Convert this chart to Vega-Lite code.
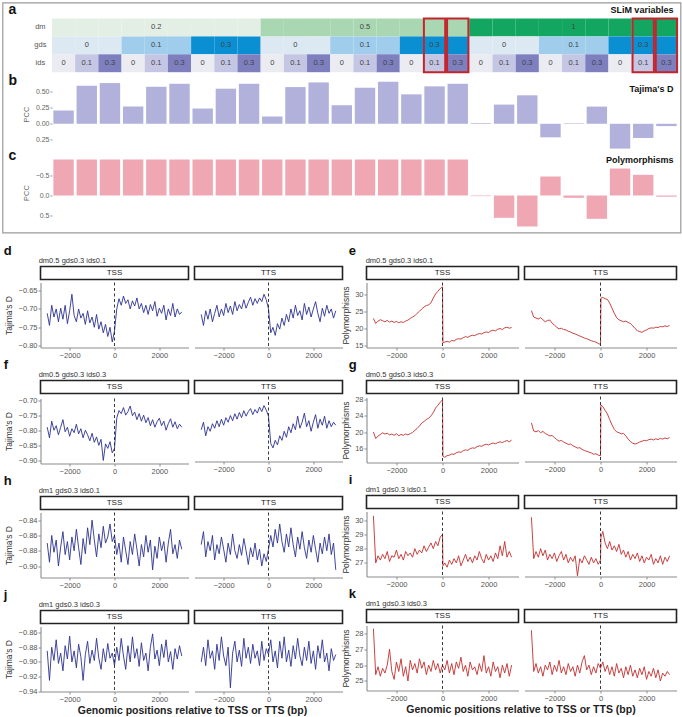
{
"$schema":"https://vega.github.io/schema/vega-lite/v6.json",
"padding":{"left":1.5,"top":1.5,"right":0,"bottom":0},
"background":"white",
"config":{
 "font":"Liberation Sans",
 "view":{"stroke":null},
 "axis":{"grid":false,"domainColor":"#8c8c8c","domainWidth":1.1,"tickColor":"#8c8c8c","tickSize":2.5,"tickWidth":1,"labelColor":"#555","labelFontSize":7.5,"labelPadding":1,"titleColor":"#333","titleFontSize":8.5,"titleFontWeight":"normal","titlePadding":3},
 "title":{"anchor":"start","frame":"bounds","fontSize":13,"fontWeight":"bold","color":"#111","offset":-1.5}
},
"datasets":{
"tab":[
{"c":1,"r":"dm","k":"dm0.2"},{"c":2,"r":"dm","k":"dm0.2"},{"c":3,"r":"dm","k":"dm0.2"},{"c":4,"r":"dm","k":"dm0.2"},{"c":5,"r":"dm","k":"dm0.2","t":"0.2"},{"c":6,"r":"dm","k":"dm0.2"},{"c":7,"r":"dm","k":"dm0.2"},{"c":8,"r":"dm","k":"dm0.2"},{"c":9,"r":"dm","k":"dm0.2"},
{"c":10,"r":"dm","k":"dm0.5"},{"c":11,"r":"dm","k":"dm0.5"},{"c":12,"r":"dm","k":"dm0.5"},{"c":13,"r":"dm","k":"dm0.5"},{"c":14,"r":"dm","k":"dm0.5","t":"0.5"},{"c":15,"r":"dm","k":"dm0.5"},{"c":16,"r":"dm","k":"dm0.5"},{"c":17,"r":"dm","k":"dm0.5"},{"c":18,"r":"dm","k":"dm0.5"},
{"c":19,"r":"dm","k":"dm1"},{"c":20,"r":"dm","k":"dm1"},{"c":21,"r":"dm","k":"dm1"},{"c":22,"r":"dm","k":"dm1"},{"c":23,"r":"dm","k":"dm1","t":"1"},{"c":24,"r":"dm","k":"dm1"},{"c":25,"r":"dm","k":"dm1"},{"c":26,"r":"dm","k":"dm1"},{"c":27,"r":"dm","k":"dm1"},
{"c":1,"r":"gds","k":"g0"},{"c":2,"r":"gds","k":"g0","t":"0"},{"c":3,"r":"gds","k":"g0"},{"c":4,"r":"gds","k":"g0.1"},{"c":5,"r":"gds","k":"g0.1","t":"0.1"},{"c":6,"r":"gds","k":"g0.1"},{"c":7,"r":"gds","k":"g0.3"},{"c":8,"r":"gds","k":"g0.3","t":"0.3"},{"c":9,"r":"gds","k":"g0.3"},
{"c":10,"r":"gds","k":"g0"},{"c":11,"r":"gds","k":"g0","t":"0"},{"c":12,"r":"gds","k":"g0"},{"c":13,"r":"gds","k":"g0.1"},{"c":14,"r":"gds","k":"g0.1","t":"0.1"},{"c":15,"r":"gds","k":"g0.1"},{"c":16,"r":"gds","k":"g0.3"},{"c":17,"r":"gds","k":"g0.3","t":"0.3"},{"c":18,"r":"gds","k":"g0.3"},
{"c":19,"r":"gds","k":"g0"},{"c":20,"r":"gds","k":"g0","t":"0"},{"c":21,"r":"gds","k":"g0"},{"c":22,"r":"gds","k":"g0.1"},{"c":23,"r":"gds","k":"g0.1","t":"0.1"},{"c":24,"r":"gds","k":"g0.1"},{"c":25,"r":"gds","k":"g0.3"},{"c":26,"r":"gds","k":"g0.3","t":"0.3"},{"c":27,"r":"gds","k":"g0.3"},
{"c":1,"r":"ids","k":"i0","t":"0"},{"c":2,"r":"ids","k":"i0.1","t":"0.1"},{"c":3,"r":"ids","k":"i0.3","t":"0.3"},{"c":4,"r":"ids","k":"i0","t":"0"},{"c":5,"r":"ids","k":"i0.1","t":"0.1"},{"c":6,"r":"ids","k":"i0.3","t":"0.3"},{"c":7,"r":"ids","k":"i0","t":"0"},{"c":8,"r":"ids","k":"i0.1","t":"0.1"},{"c":9,"r":"ids","k":"i0.3","t":"0.3"},
{"c":10,"r":"ids","k":"i0","t":"0"},{"c":11,"r":"ids","k":"i0.1","t":"0.1"},{"c":12,"r":"ids","k":"i0.3","t":"0.3"},{"c":13,"r":"ids","k":"i0","t":"0"},{"c":14,"r":"ids","k":"i0.1","t":"0.1"},{"c":15,"r":"ids","k":"i0.3","t":"0.3"},{"c":16,"r":"ids","k":"i0","t":"0"},{"c":17,"r":"ids","k":"i0.1","t":"0.1"},{"c":18,"r":"ids","k":"i0.3","t":"0.3"},
{"c":19,"r":"ids","k":"i0","t":"0"},{"c":20,"r":"ids","k":"i0.1","t":"0.1"},{"c":21,"r":"ids","k":"i0.3","t":"0.3"},{"c":22,"r":"ids","k":"i0","t":"0"},{"c":23,"r":"ids","k":"i0.1","t":"0.1"},{"c":24,"r":"ids","k":"i0.3","t":"0.3"},{"c":25,"r":"ids","k":"i0","t":"0"},{"c":26,"r":"ids","k":"i0.1","t":"0.1"},{"c":27,"r":"ids","k":"i0.3","t":"0.3"}
],
"rl":[{"c":0,"r":"dm"},{"c":0,"r":"gds"},{"c":0,"r":"ids"}],
"pb":[{"c":1,"v":0.204},{"c":2,"v":0.587},{"c":3,"v":0.628},{"c":4,"v":0.265},{"c":5,"v":0.571},{"c":6,"v":0.617},{"c":7,"v":0.235},{"c":8,"v":0.541},{"c":9,"v":0.617},{"c":10,"v":0.112},{"c":11,"v":0.566},{"c":12,"v":0.638},{"c":13,"v":0.286},{"c":14,"v":0.556},{"c":15,"v":0.648},{"c":16,"v":0.454},{"c":17,"v":0.577},{"c":18,"v":0.617},{"c":19,"v":0.01},{"c":20,"v":0.296},{"c":21,"v":0.439},{"c":22,"v":-0.209},{"c":23,"v":0.008},{"c":24,"v":0.265},{"c":25,"v":-0.383},{"c":26,"v":-0.219},{"c":27,"v":-0.036}],
"pc":[{"c":1,"v":-0.9},{"c":2,"v":-0.9},{"c":3,"v":-0.9},{"c":4,"v":-0.9},{"c":5,"v":-0.9},{"c":6,"v":-0.9},{"c":7,"v":-0.9},{"c":8,"v":-0.9},{"c":9,"v":-0.9},{"c":10,"v":-0.9},{"c":11,"v":-0.9},{"c":12,"v":-0.9},{"c":13,"v":-0.9},{"c":14,"v":-0.9},{"c":15,"v":-0.9},{"c":16,"v":-0.9},{"c":17,"v":-0.9},{"c":18,"v":-0.9},{"c":19,"v":0.015},{"c":20,"v":0.558},{"c":21,"v":0.775},{"c":22,"v":-0.475},{"c":23,"v":0.058},{"c":24,"v":0.583},{"c":25,"v":-0.675},{"c":26,"v":-0.517},{"c":27,"v":0.03}],
"d":[{"x":-3000,"a":-0.712,"b":-0.715},{"x":-2900,"a":-0.745,"b":-0.745},{"x":-2800,"a":-0.69,"b":-0.705},{"x":-2700,"a":-0.722,"b":-0.728},{"x":-2600,"a":-0.7,"b":-0.7},{"x":-2500,"a":-0.735,"b":-0.735},{"x":-2400,"a":-0.698,"b":-0.712},{"x":-2300,"a":-0.728,"b":-0.69},{"x":-2200,"a":-0.69,"b":-0.722},{"x":-2100,"a":-0.74,"b":-0.7},{"x":-2000,"a":-0.705,"b":-0.718},{"x":-1900,"a":-0.66,"b":-0.685},{"x":-1800,"a":-0.718,"b":-0.71},{"x":-1700,"a":-0.735,"b":-0.692},{"x":-1600,"a":-0.7,"b":-0.715},{"x":-1500,"a":-0.725,"b":-0.68},{"x":-1400,"a":-0.712,"b":-0.705},{"x":-1300,"a":-0.742,"b":-0.688},{"x":-1200,"a":-0.705,"b":-0.7},{"x":-1100,"a":-0.738,"b":-0.675},{"x":-1000,"a":-0.722,"b":-0.698},{"x":-900,"a":-0.75,"b":-0.682},{"x":-800,"a":-0.715,"b":-0.668},{"x":-700,"a":-0.755,"b":-0.69},{"x":-600,"a":-0.735,"b":-0.672},{"x":-500,"a":-0.765,"b":-0.685},{"x":-400,"a":-0.742,"b":-0.67},{"x":-300,"a":-0.775,"b":-0.68},{"x":-200,"a":-0.75,"b":-0.66},{"x":-100,"a":-0.79,"b":-0.675},{"x":0,"a":-0.76,"b":-0.7},{"x":100,"a":-0.7,"b":-0.765},{"x":200,"a":-0.672,"b":-0.75},{"x":300,"a":-0.69,"b":-0.772},{"x":400,"a":-0.665,"b":-0.74},{"x":500,"a":-0.685,"b":-0.755},{"x":600,"a":-0.675,"b":-0.725},{"x":700,"a":-0.7,"b":-0.745},{"x":800,"a":-0.678,"b":-0.715},{"x":900,"a":-0.692,"b":-0.735},{"x":1000,"a":-0.67,"b":-0.7},{"x":1100,"a":-0.7,"b":-0.725},{"x":1200,"a":-0.685,"b":-0.69},{"x":1300,"a":-0.71,"b":-0.718},{"x":1400,"a":-0.69,"b":-0.705},{"x":1500,"a":-0.715,"b":-0.73},{"x":1600,"a":-0.688,"b":-0.685},{"x":1700,"a":-0.705,"b":-0.715},{"x":1800,"a":-0.68,"b":-0.695},{"x":1900,"a":-0.72,"b":-0.722},{"x":2000,"a":-0.698,"b":-0.7},{"x":2100,"a":-0.712,"b":-0.68},{"x":2200,"a":-0.69,"b":-0.712},{"x":2300,"a":-0.73,"b":-0.735},{"x":2400,"a":-0.7,"b":-0.698},{"x":2500,"a":-0.718,"b":-0.72},{"x":2600,"a":-0.685,"b":-0.69},{"x":2700,"a":-0.722,"b":-0.712},{"x":2800,"a":-0.7,"b":-0.7},{"x":2900,"a":-0.715,"b":-0.725},{"x":3000,"a":-0.708,"b":-0.705}],
"e":[{"x":-3000,"a":23.0,"b":25.3},{"x":-2900,"a":21.5,"b":23.4},{"x":-2800,"a":22.2,"b":23.1},{"x":-2700,"a":22.6,"b":22.8},{"x":-2600,"a":22.3,"b":23.2},{"x":-2500,"a":22.0,"b":22.6},{"x":-2400,"a":22.4,"b":22.0},{"x":-2300,"a":21.9,"b":22.4},{"x":-2200,"a":22.2,"b":22.5},{"x":-2100,"a":21.8,"b":21.6},{"x":-2000,"a":22.1,"b":21.0},{"x":-1900,"a":21.7,"b":20.4},{"x":-1800,"a":22.0,"b":19.9},{"x":-1700,"a":21.8,"b":20.1},{"x":-1600,"a":22.2,"b":19.7},{"x":-1500,"a":22.5,"b":19.6},{"x":-1400,"a":23.0,"b":19.2},{"x":-1300,"a":23.4,"b":19.0},{"x":-1200,"a":23.8,"b":18.6},{"x":-1100,"a":24.5,"b":18.4},{"x":-1000,"a":25.1,"b":18.1},{"x":-900,"a":25.8,"b":17.8},{"x":-800,"a":26.4,"b":17.5},{"x":-700,"a":26.8,"b":17.2},{"x":-600,"a":27.0,"b":17.0},{"x":-500,"a":27.6,"b":16.7},{"x":-400,"a":29.0,"b":16.4},{"x":-300,"a":30.2,"b":16.2},{"x":-200,"a":31.0,"b":16.0},{"x":-100,"a":31.8,"b":15.6},{"x":0,"a":32.3,"b":15.3},{"x":20,"a":15.8,"b":29.0},{"x":100,"a":16.0,"b":29.2},{"x":200,"a":16.2,"b":28.8},{"x":300,"a":16.0,"b":28.6},{"x":400,"a":16.5,"b":27.5},{"x":500,"a":16.3,"b":26.0},{"x":600,"a":16.8,"b":24.5},{"x":700,"a":17.0,"b":23.2},{"x":800,"a":16.9,"b":22.6},{"x":900,"a":17.3,"b":22.3},{"x":1000,"a":17.6,"b":22.0},{"x":1100,"a":17.4,"b":22.2},{"x":1200,"a":17.8,"b":21.8},{"x":1300,"a":18.0,"b":21.5},{"x":1400,"a":17.9,"b":20.8},{"x":1500,"a":18.3,"b":20.0},{"x":1600,"a":18.5,"b":19.4},{"x":1700,"a":18.4,"b":19.1},{"x":1800,"a":18.8,"b":18.9},{"x":1900,"a":19.0,"b":19.3},{"x":2000,"a":18.8,"b":19.6},{"x":2100,"a":19.3,"b":20.0},{"x":2200,"a":19.5,"b":20.2},{"x":2300,"a":19.3,"b":20.1},{"x":2400,"a":19.8,"b":20.4},{"x":2500,"a":20.0,"b":20.3},{"x":2600,"a":19.7,"b":20.6},{"x":2700,"a":20.2,"b":20.5},{"x":2800,"a":20.4,"b":20.8},{"x":2900,"a":20.1,"b":20.6},{"x":3000,"a":20.3,"b":20.9}],
"f":[{"x":-3000,"a":-0.79,"b":-0.805},{"x":-2900,"a":-0.825,"b":-0.78},{"x":-2800,"a":-0.77,"b":-0.825},{"x":-2700,"a":-0.8,"b":-0.795},{"x":-2600,"a":-0.785,"b":-0.81},{"x":-2500,"a":-0.815,"b":-0.785},{"x":-2400,"a":-0.79,"b":-0.8},{"x":-2300,"a":-0.765,"b":-0.775},{"x":-2200,"a":-0.805,"b":-0.795},{"x":-2100,"a":-0.79,"b":-0.77},{"x":-2000,"a":-0.82,"b":-0.79},{"x":-1900,"a":-0.795,"b":-0.765},{"x":-1800,"a":-0.808,"b":-0.78},{"x":-1700,"a":-0.78,"b":-0.758},{"x":-1600,"a":-0.812,"b":-0.775},{"x":-1500,"a":-0.795,"b":-0.752},{"x":-1400,"a":-0.825,"b":-0.77},{"x":-1300,"a":-0.8,"b":-0.748},{"x":-1200,"a":-0.815,"b":-0.765},{"x":-1100,"a":-0.835,"b":-0.742},{"x":-1000,"a":-0.81,"b":-0.76},{"x":-900,"a":-0.84,"b":-0.745},{"x":-800,"a":-0.822,"b":-0.735},{"x":-700,"a":-0.85,"b":-0.755},{"x":-600,"a":-0.83,"b":-0.738},{"x":-500,"a":-0.9,"b":-0.75},{"x":-400,"a":-0.845,"b":-0.73},{"x":-300,"a":-0.86,"b":-0.745},{"x":-200,"a":-0.838,"b":-0.725},{"x":-100,"a":-0.875,"b":-0.74},{"x":0,"a":-0.86,"b":-0.76},{"x":100,"a":-0.76,"b":-0.85},{"x":200,"a":-0.735,"b":-0.865},{"x":300,"a":-0.745,"b":-0.84},{"x":400,"a":-0.725,"b":-0.855},{"x":500,"a":-0.75,"b":-0.825},{"x":600,"a":-0.738,"b":-0.84},{"x":700,"a":-0.72,"b":-0.81},{"x":800,"a":-0.752,"b":-0.83},{"x":900,"a":-0.74,"b":-0.795},{"x":1000,"a":-0.765,"b":-0.815},{"x":1100,"a":-0.745,"b":-0.785},{"x":1200,"a":-0.77,"b":-0.805},{"x":1300,"a":-0.75,"b":-0.76},{"x":1400,"a":-0.775,"b":-0.8},{"x":1500,"a":-0.758,"b":-0.78},{"x":1600,"a":-0.785,"b":-0.75},{"x":1700,"a":-0.765,"b":-0.795},{"x":1800,"a":-0.79,"b":-0.775},{"x":1900,"a":-0.772,"b":-0.81},{"x":2000,"a":-0.76,"b":-0.78},{"x":2100,"a":-0.785,"b":-0.755},{"x":2200,"a":-0.77,"b":-0.8},{"x":2300,"a":-0.8,"b":-0.77},{"x":2400,"a":-0.778,"b":-0.79},{"x":2500,"a":-0.762,"b":-0.76},{"x":2600,"a":-0.79,"b":-0.8},{"x":2700,"a":-0.772,"b":-0.775},{"x":2800,"a":-0.795,"b":-0.795},{"x":2900,"a":-0.78,"b":-0.78},{"x":3000,"a":-0.79,"b":-0.79}],
"g":[{"x":-3000,"a":20.0,"b":22.0},{"x":-2900,"a":18.4,"b":20.0},{"x":-2800,"a":19.0,"b":19.8},{"x":-2700,"a":19.4,"b":20.1},{"x":-2600,"a":19.8,"b":19.6},{"x":-2500,"a":19.5,"b":19.9},{"x":-2400,"a":19.7,"b":19.4},{"x":-2300,"a":19.3,"b":19.1},{"x":-2200,"a":19.5,"b":18.8},{"x":-2100,"a":19.2,"b":18.9},{"x":-2000,"a":19.6,"b":18.4},{"x":-1900,"a":19.1,"b":17.9},{"x":-1800,"a":19.4,"b":17.5},{"x":-1700,"a":19.2,"b":17.7},{"x":-1600,"a":19.5,"b":17.3},{"x":-1500,"a":19.3,"b":17.0},{"x":-1400,"a":19.6,"b":16.7},{"x":-1300,"a":19.9,"b":16.8},{"x":-1200,"a":20.4,"b":16.4},{"x":-1100,"a":20.9,"b":16.1},{"x":-1000,"a":21.5,"b":15.8},{"x":-900,"a":22.2,"b":15.9},{"x":-800,"a":22.6,"b":15.5},{"x":-700,"a":23.1,"b":15.2},{"x":-600,"a":23.4,"b":15.0},{"x":-500,"a":24.0,"b":14.8},{"x":-400,"a":24.8,"b":14.6},{"x":-300,"a":25.9,"b":14.3},{"x":-200,"a":26.6,"b":14.4},{"x":-100,"a":27.3,"b":14.1},{"x":0,"a":27.9,"b":13.9},{"x":20,"a":14.0,"b":26.4},{"x":100,"a":13.8,"b":26.0},{"x":200,"a":14.2,"b":25.1},{"x":300,"a":14.3,"b":24.2},{"x":400,"a":14.6,"b":22.8},{"x":500,"a":14.5,"b":21.5},{"x":600,"a":14.9,"b":20.4},{"x":700,"a":15.1,"b":19.8},{"x":800,"a":15.0,"b":19.6},{"x":900,"a":15.4,"b":19.3},{"x":1000,"a":15.6,"b":19.4},{"x":1100,"a":15.5,"b":18.8},{"x":1200,"a":15.9,"b":18.0},{"x":1300,"a":16.1,"b":17.4},{"x":1400,"a":16.0,"b":17.0},{"x":1500,"a":16.4,"b":16.8},{"x":1600,"a":16.6,"b":17.0},{"x":1700,"a":16.5,"b":17.3},{"x":1800,"a":16.8,"b":17.5},{"x":1900,"a":17.0,"b":17.7},{"x":2000,"a":16.8,"b":17.6},{"x":2100,"a":17.1,"b":17.9},{"x":2200,"a":17.3,"b":18.0},{"x":2300,"a":17.1,"b":17.8},{"x":2400,"a":17.4,"b":18.1},{"x":2500,"a":17.6,"b":17.9},{"x":2600,"a":17.4,"b":18.2},{"x":2700,"a":17.7,"b":18.0},{"x":2800,"a":17.9,"b":18.3},{"x":2900,"a":17.6,"b":18.1},{"x":3000,"a":18.0,"b":18.4}],
"h":[{"x":-3000,"a":-0.87,"b":-0.872},{"x":-2900,"a":-0.895,"b":-0.855},{"x":-2800,"a":-0.86,"b":-0.888},{"x":-2700,"a":-0.882,"b":-0.868},{"x":-2600,"a":-0.866,"b":-0.88},{"x":-2500,"a":-0.9,"b":-0.86},{"x":-2400,"a":-0.875,"b":-0.892},{"x":-2300,"a":-0.855,"b":-0.872},{"x":-2200,"a":-0.885,"b":-0.884},{"x":-2100,"a":-0.868,"b":-0.862},{"x":-2000,"a":-0.892,"b":-0.878},{"x":-1900,"a":-0.862,"b":-0.895},{"x":-1800,"a":-0.88,"b":-0.87},{"x":-1700,"a":-0.852,"b":-0.885},{"x":-1600,"a":-0.876,"b":-0.858},{"x":-1500,"a":-0.898,"b":-0.88},{"x":-1400,"a":-0.864,"b":-0.89},{"x":-1300,"a":-0.884,"b":-0.872},{"x":-1200,"a":-0.85,"b":-0.886},{"x":-1100,"a":-0.872,"b":-0.864},{"x":-1000,"a":-0.84,"b":-0.88},{"x":-900,"a":-0.866,"b":-0.898},{"x":-800,"a":-0.888,"b":-0.876},{"x":-700,"a":-0.858,"b":-0.888},{"x":-600,"a":-0.876,"b":-0.87},{"x":-500,"a":-0.848,"b":-0.892},{"x":-400,"a":-0.87,"b":-0.878},{"x":-300,"a":-0.862,"b":-0.9},{"x":-200,"a":-0.845,"b":-0.884},{"x":-100,"a":-0.868,"b":-0.894},{"x":0,"a":-0.86,"b":-0.878},{"x":100,"a":-0.885,"b":-0.86},{"x":200,"a":-0.87,"b":-0.875},{"x":300,"a":-0.895,"b":-0.852},{"x":400,"a":-0.862,"b":-0.87},{"x":500,"a":-0.88,"b":-0.845},{"x":600,"a":-0.898,"b":-0.868},{"x":700,"a":-0.868,"b":-0.882},{"x":800,"a":-0.885,"b":-0.858},{"x":900,"a":-0.858,"b":-0.875},{"x":1000,"a":-0.878,"b":-0.85},{"x":1100,"a":-0.9,"b":-0.872},{"x":1200,"a":-0.872,"b":-0.888},{"x":1300,"a":-0.888,"b":-0.862},{"x":1400,"a":-0.86,"b":-0.878},{"x":1500,"a":-0.882,"b":-0.855},{"x":1600,"a":-0.866,"b":-0.876},{"x":1700,"a":-0.905,"b":-0.89},{"x":1800,"a":-0.874,"b":-0.866},{"x":1900,"a":-0.89,"b":-0.882},{"x":2000,"a":-0.862,"b":-0.86},{"x":2100,"a":-0.88,"b":-0.878},{"x":2200,"a":-0.868,"b":-0.895},{"x":2300,"a":-0.895,"b":-0.87},{"x":2400,"a":-0.87,"b":-0.884},{"x":2500,"a":-0.852,"b":-0.862},{"x":2600,"a":-0.884,"b":-0.88},{"x":2700,"a":-0.872,"b":-0.858},{"x":2800,"a":-0.89,"b":-0.885},{"x":2900,"a":-0.866,"b":-0.87},{"x":3000,"a":-0.878,"b":-0.905}],
"i":[{"x":-3000,"a":30.3,"b":30.2},{"x":-2900,"a":27.0,"b":27.3},{"x":-2800,"a":27.5,"b":27.8},{"x":-2700,"a":27.2,"b":27.4},{"x":-2600,"a":27.6,"b":28.0},{"x":-2500,"a":27.3,"b":27.5},{"x":-2400,"a":27.8,"b":27.9},{"x":-2300,"a":27.1,"b":27.2},{"x":-2200,"a":27.5,"b":27.6},{"x":-2100,"a":27.4,"b":27.3},{"x":-2000,"a":27.9,"b":27.7},{"x":-1900,"a":27.3,"b":27.1},{"x":-1800,"a":27.6,"b":27.5},{"x":-1700,"a":27.2,"b":27.8},{"x":-1600,"a":27.8,"b":27.2},{"x":-1500,"a":27.5,"b":27.6},{"x":-1400,"a":27.7,"b":27.0},{"x":-1300,"a":27.4,"b":27.4},{"x":-1200,"a":28.0,"b":27.1},{"x":-1100,"a":27.6,"b":27.5},{"x":-1000,"a":27.9,"b":26.1},{"x":-900,"a":27.7,"b":27.3},{"x":-800,"a":28.2,"b":27.0},{"x":-700,"a":27.8,"b":27.5},{"x":-600,"a":28.1,"b":27.2},{"x":-500,"a":28.4,"b":26.9},{"x":-400,"a":28.0,"b":27.4},{"x":-300,"a":28.5,"b":27.0},{"x":-200,"a":28.2,"b":27.3},{"x":-100,"a":28.8,"b":26.9},{"x":0,"a":29.0,"b":27.2},{"x":20,"a":26.8,"b":28.8},{"x":100,"a":27.0,"b":29.2},{"x":200,"a":26.7,"b":28.4},{"x":300,"a":27.2,"b":28.0},{"x":400,"a":26.9,"b":28.5},{"x":500,"a":27.3,"b":27.9},{"x":600,"a":27.0,"b":28.2},{"x":700,"a":27.5,"b":27.8},{"x":800,"a":26.8,"b":28.3},{"x":900,"a":27.2,"b":27.6},{"x":1000,"a":27.6,"b":27.9},{"x":1100,"a":27.1,"b":27.4},{"x":1200,"a":27.4,"b":27.8},{"x":1300,"a":27.0,"b":27.2},{"x":1400,"a":27.5,"b":27.6},{"x":1500,"a":27.2,"b":27.3},{"x":1600,"a":27.8,"b":27.7},{"x":1700,"a":27.3,"b":27.1},{"x":1800,"a":27.0,"b":27.5},{"x":1900,"a":27.6,"b":27.0},{"x":2000,"a":27.2,"b":27.4},{"x":2100,"a":27.5,"b":27.2},{"x":2200,"a":27.1,"b":27.6},{"x":2300,"a":27.7,"b":26.9},{"x":2400,"a":27.3,"b":27.3},{"x":2500,"a":28.2,"b":27.0},{"x":2600,"a":27.5,"b":27.5},{"x":2700,"a":28.5,"b":26.9},{"x":2800,"a":27.4,"b":27.4},{"x":2900,"a":27.8,"b":27.1},{"x":3000,"a":27.4,"b":27.5}],
"j":[{"x":-3000,"a":-0.885,"b":-0.9},{"x":-2900,"a":-0.925,"b":-0.88},{"x":-2800,"a":-0.88,"b":-0.905},{"x":-2700,"a":-0.898,"b":-0.87},{"x":-2600,"a":-0.87,"b":-0.895},{"x":-2500,"a":-0.902,"b":-0.885},{"x":-2400,"a":-0.888,"b":-0.91},{"x":-2300,"a":-0.912,"b":-0.876},{"x":-2200,"a":-0.878,"b":-0.898},{"x":-2100,"a":-0.896,"b":-0.866},{"x":-2000,"a":-0.865,"b":-0.892},{"x":-1900,"a":-0.9,"b":-0.905},{"x":-1800,"a":-0.885,"b":-0.88},{"x":-1700,"a":-0.908,"b":-0.935},{"x":-1600,"a":-0.876,"b":-0.888},{"x":-1500,"a":-0.893,"b":-0.872},{"x":-1400,"a":-0.925,"b":-0.9},{"x":-1300,"a":-0.89,"b":-0.884},{"x":-1200,"a":-0.872,"b":-0.906},{"x":-1100,"a":-0.902,"b":-0.868},{"x":-1000,"a":-0.884,"b":-0.895},{"x":-900,"a":-0.898,"b":-0.88},{"x":-800,"a":-0.868,"b":-0.902},{"x":-700,"a":-0.895,"b":-0.876},{"x":-600,"a":-0.91,"b":-0.895},{"x":-500,"a":-0.882,"b":-0.885},{"x":-400,"a":-0.9,"b":-0.905},{"x":-300,"a":-0.875,"b":-0.872},{"x":-200,"a":-0.895,"b":-0.898},{"x":-100,"a":-0.888,"b":-0.882},{"x":0,"a":-0.905,"b":-0.89},{"x":100,"a":-0.88,"b":-0.87},{"x":200,"a":-0.898,"b":-0.9},{"x":300,"a":-0.868,"b":-0.885},{"x":400,"a":-0.892,"b":-0.908},{"x":500,"a":-0.91,"b":-0.872},{"x":600,"a":-0.878,"b":-0.895},{"x":700,"a":-0.9,"b":-0.866},{"x":800,"a":-0.866,"b":-0.9},{"x":900,"a":-0.895,"b":-0.884},{"x":1000,"a":-0.882,"b":-0.906},{"x":1100,"a":-0.906,"b":-0.878},{"x":1200,"a":-0.874,"b":-0.896},{"x":1300,"a":-0.898,"b":-0.868},{"x":1400,"a":-0.888,"b":-0.892},{"x":1500,"a":-0.912,"b":-0.905},{"x":1600,"a":-0.88,"b":-0.88},{"x":1700,"a":-0.862,"b":-0.898},{"x":1800,"a":-0.896,"b":-0.872},{"x":1900,"a":-0.884,"b":-0.902},{"x":2000,"a":-0.905,"b":-0.885},{"x":2100,"a":-0.876,"b":-0.91},{"x":2200,"a":-0.894,"b":-0.878},{"x":2300,"a":-0.87,"b":-0.895},{"x":2400,"a":-0.9,"b":-0.87},{"x":2500,"a":-0.886,"b":-0.9},{"x":2600,"a":-0.91,"b":-0.888},{"x":2700,"a":-0.882,"b":-0.912},{"x":2800,"a":-0.896,"b":-0.882},{"x":2900,"a":-0.878,"b":-0.898},{"x":3000,"a":-0.892,"b":-0.89}],
"k":[{"x":-3000,"a":28.3,"b":28.2},{"x":-2900,"a":25.4,"b":25.6},{"x":-2800,"a":25.9,"b":26.1},{"x":-2700,"a":25.3,"b":25.5},{"x":-2600,"a":25.8,"b":25.9},{"x":-2500,"a":25.5,"b":25.3},{"x":-2400,"a":26.0,"b":26.0},{"x":-2300,"a":27.0,"b":25.7},{"x":-2200,"a":25.6,"b":26.2},{"x":-2100,"a":25.1,"b":25.4},{"x":-2000,"a":26.2,"b":26.0},{"x":-1900,"a":25.6,"b":25.6},{"x":-1800,"a":26.4,"b":26.3},{"x":-1700,"a":25.3,"b":25.5},{"x":-1600,"a":25.9,"b":25.9},{"x":-1500,"a":25.0,"b":25.4},{"x":-1400,"a":26.3,"b":26.1},{"x":-1300,"a":25.7,"b":25.6},{"x":-1200,"a":26.1,"b":25.9},{"x":-1100,"a":25.5,"b":25.3},{"x":-1000,"a":26.4,"b":26.0},{"x":-900,"a":25.8,"b":25.5},{"x":-800,"a":26.2,"b":26.2},{"x":-700,"a":25.4,"b":26.6},{"x":-600,"a":26.0,"b":25.7},{"x":-500,"a":25.6,"b":26.0},{"x":-400,"a":26.3,"b":25.4},{"x":-300,"a":25.7,"b":25.9},{"x":-200,"a":26.1,"b":25.5},{"x":-100,"a":25.5,"b":26.1},{"x":0,"a":26.0,"b":25.8},{"x":100,"a":25.7,"b":26.2},{"x":200,"a":26.3,"b":25.6},{"x":300,"a":25.5,"b":26.0},{"x":400,"a":26.1,"b":25.4},{"x":500,"a":25.4,"b":25.9},{"x":600,"a":26.2,"b":25.3},{"x":700,"a":25.8,"b":26.1},{"x":800,"a":26.5,"b":25.5},{"x":900,"a":25.6,"b":25.8},{"x":1000,"a":26.0,"b":25.2},{"x":1100,"a":25.3,"b":25.9},{"x":1200,"a":26.2,"b":25.4},{"x":1300,"a":25.7,"b":26.0},{"x":1400,"a":25.9,"b":25.3},{"x":1500,"a":25.4,"b":25.7},{"x":1600,"a":26.1,"b":25.2},{"x":1700,"a":25.6,"b":25.8},{"x":1800,"a":26.6,"b":25.4},{"x":1900,"a":25.5,"b":25.9},{"x":2000,"a":25.9,"b":25.1},{"x":2100,"a":25.3,"b":25.6},{"x":2200,"a":26.2,"b":25.3},{"x":2300,"a":25.6,"b":25.8},{"x":2400,"a":25.9,"b":25.2},{"x":2500,"a":25.2,"b":25.7},{"x":2600,"a":26.0,"b":25.0},{"x":2700,"a":25.5,"b":25.5},{"x":2800,"a":26.1,"b":25.3},{"x":2900,"a":25.3,"b":25.6},{"x":3000,"a":26.0,"b":25.4}]
},
"spacing":11,
"vconcat":[
{"width":678,"height":230,
 "view":{"stroke":"#9a9a9a","strokeWidth":1.2},
 "resolve":{"scale":{"y":"independent"}},
 "layer":[
  {"layer":[
    {"data":{"name":"tab"},"mark":{"type":"rect"},"encoding":{
      "x":{"field":"c","type":"ordinal","scale":{"type":"band","domain":[0,1,2,3,4,5,6,7,8,9,10,11,12,13,14,15,16,17,18,19,20,21,22,23,24,25,26,27],"range":[26.3,675.5],"paddingInner":0,"paddingOuter":0},"axis":null},
      "y":{"field":"r","type":"nominal","scale":{"type":"band","domain":["dm","gds","ids"],"range":[16,69.7],"paddingInner":0,"paddingOuter":0},"axis":null},
      "color":{"field":"k","type":"nominal","scale":{"domain":["dm0.2","dm0.5","dm1","g0","g0.1","g0.3","i0","i0.1","i0.3"],"range":["#e3efe4","#a9d7b1","#12a660","#dde9f2","#9fcdeb","#0a8fd2","#ebebf2","#c4c6e3","#7d7fbe"]},"legend":null}}},
    {"data":{"name":"tab"},"transform":[{"filter":"datum.t != null"}],"mark":{"type":"text","fontSize":7.5,"color":"#444"},"encoding":{
      "x":{"field":"c","type":"ordinal","scale":{"type":"band","domain":[0,1,2,3,4,5,6,7,8,9,10,11,12,13,14,15,16,17,18,19,20,21,22,23,24,25,26,27],"range":[26.3,675.5],"paddingInner":0,"paddingOuter":0},"axis":null},
      "y":{"field":"r","type":"nominal","scale":{"type":"band","domain":["dm","gds","ids"],"range":[16,69.7],"paddingInner":0,"paddingOuter":0},"axis":null},
      "text":{"field":"t"}}},
    {"data":{"name":"rl"},"mark":{"type":"text","fontSize":7.5,"color":"#555"},"encoding":{
      "x":{"field":"c","type":"ordinal","scale":{"type":"band","domain":[0,1,2,3,4,5,6,7,8,9,10,11,12,13,14,15,16,17,18,19,20,21,22,23,24,25,26,27],"range":[26.3,675.5],"paddingInner":0,"paddingOuter":0},"axis":null},
      "y":{"field":"r","type":"nominal","scale":{"type":"band","domain":["dm","gds","ids"],"range":[16,69.7],"paddingInner":0,"paddingOuter":0},"axis":null},
      "text":{"field":"r"}}}
  ]},
  {"layer":[
    {"data":{"values":[{"c":17},{"c":18},{"c":26},{"c":27}]},"mark":{"type":"rect","fill":"transparent","stroke":"#c4242b","strokeWidth":2,"width":{"band":0.92}},"encoding":{
      "x":{"field":"c","type":"ordinal","scale":{"type":"band","domain":[0,1,2,3,4,5,6,7,8,9,10,11,12,13,14,15,16,17,18,19,20,21,22,23,24,25,26,27],"range":[26.3,675.5],"paddingInner":0,"paddingOuter":0},"axis":null},
      "y":{"datum":0,"type":"quantitative","scale":{"domain":[0,1],"range":[16,69.7],"nice":false,"zero":false},"axis":null},
      "y2":{"datum":1}}},
    {"data":{"values":[{"t":"SLiM variables"}]},"mark":{"type":"text","align":"right","dx":7,"fontSize":9,"fontWeight":"bold","color":"#111"},"encoding":{
      "x":{"datum":27,"type":"ordinal","scale":{"type":"band","domain":[0,1,2,3,4,5,6,7,8,9,10,11,12,13,14,15,16,17,18,19,20,21,22,23,24,25,26,27],"range":[26.3,675.5],"paddingInner":0,"paddingOuter":0},"axis":null},
      "y":{"datum":-0.15,"type":"quantitative"},"text":{"field":"t"}}},
    {"data":{"values":[{"t":"a"}]},"mark":{"type":"text","align":"left","dx":-32,"fontSize":14,"fontWeight":"bold","color":"#111"},"encoding":{
      "x":{"datum":0,"type":"ordinal","scale":{"type":"band","domain":[0,1,2,3,4,5,6,7,8,9,10,11,12,13,14,15,16,17,18,19,20,21,22,23,24,25,26,27],"range":[26.3,675.5],"paddingInner":0,"paddingOuter":0},"axis":null},
      "y":{"datum":-0.15,"type":"quantitative"},"text":{"field":"t"}}}
  ]},
  {"layer":[
    {"data":{"name":"pb"},"mark":{"type":"bar","color":"#b1b1dc","width":{"band":0.88}},"encoding":{
      "x":{"field":"c","type":"ordinal","scale":{"type":"band","domain":[0,1,2,3,4,5,6,7,8,9,10,11,12,13,14,15,16,17,18,19,20,21,22,23,24,25,26,27],"range":[26.3,675.5],"paddingInner":0,"paddingOuter":0},"axis":null},
      "y":{"field":"v","type":"quantitative","stack":null,"scale":{"domain":[-0.4,0.7],"range":[147.2,75.9],"nice":false,"zero":false},"axis":{"orient":"left","offset":-49.5,"values":[-0.25,0,0.25,0.5],"format":".2f","labelExpr":"replace(replace(datum.label,'−',''),'-','')","domain":false,"title":"PCC","titleFontSize":7.5,"titleColor":"#666","titlePadding":5,"labelFontSize":7,"tickSize":2,"tickColor":"#999","labelColor":"#666"}},
      "y2":{"datum":0}}},
    {"data":{"values":[{"t":"Tajima's D"}]},"mark":{"type":"text","align":"right","dx":7,"fontSize":9,"fontWeight":"bold","color":"#111"},"encoding":{
      "x":{"datum":27,"type":"ordinal","scale":{"type":"band","domain":[0,1,2,3,4,5,6,7,8,9,10,11,12,13,14,15,16,17,18,19,20,21,22,23,24,25,26,27],"range":[26.3,675.5],"paddingInner":0,"paddingOuter":0},"axis":null},
      "y":{"datum":0.53,"type":"quantitative"},"text":{"field":"t"}}},
    {"data":{"values":[{"t":"b"}]},"mark":{"type":"text","align":"left","dx":-32,"fontSize":14,"fontWeight":"bold","color":"#111"},"encoding":{
      "x":{"datum":0,"type":"ordinal","scale":{"type":"band","domain":[0,1,2,3,4,5,6,7,8,9,10,11,12,13,14,15,16,17,18,19,20,21,22,23,24,25,26,27],"range":[26.3,675.5],"paddingInner":0,"paddingOuter":0},"axis":null},
      "y":{"datum":0.66,"type":"quantitative"},"text":{"field":"t"}}}
  ]},
  {"layer":[
    {"data":{"name":"pc"},"mark":{"type":"bar","color":"#f0a7b4","width":{"band":0.88}},"encoding":{
      "x":{"field":"c","type":"ordinal","scale":{"type":"band","domain":[0,1,2,3,4,5,6,7,8,9,10,11,12,13,14,15,16,17,18,19,20,21,22,23,24,25,26,27],"range":[26.3,675.5],"paddingInner":0,"paddingOuter":0},"axis":null},
      "y":{"field":"v","type":"quantitative","stack":null,"scale":{"domain":[-1,0.85],"range":[153,227],"nice":false,"zero":false},"axis":{"orient":"left","offset":-49.5,"values":[-0.5,0,0.5],"format":".1f","domain":false,"title":"PCC","titleFontSize":7.5,"titleColor":"#666","titlePadding":5,"labelFontSize":7,"tickSize":2,"tickColor":"#999","labelColor":"#666"}},
      "y2":{"datum":0}}},
    {"data":{"values":[{"t":"Polymorphisms"}]},"mark":{"type":"text","align":"right","dx":7,"fontSize":9,"fontWeight":"bold","color":"#111"},"encoding":{
      "x":{"datum":27,"type":"ordinal","scale":{"type":"band","domain":[0,1,2,3,4,5,6,7,8,9,10,11,12,13,14,15,16,17,18,19,20,21,22,23,24,25,26,27],"range":[26.3,675.5],"paddingInner":0,"paddingOuter":0},"axis":null},
      "y":{"datum":-0.9,"type":"quantitative"},"text":{"field":"t"}}},
    {"data":{"values":[{"t":"c"}]},"mark":{"type":"text","align":"left","dx":-32,"fontSize":14,"fontWeight":"bold","color":"#111"},"encoding":{
      "x":{"datum":0,"type":"ordinal","scale":{"type":"band","domain":[0,1,2,3,4,5,6,7,8,9,10,11,12,13,14,15,16,17,18,19,20,21,22,23,24,25,26,27],"range":[26.3,675.5],"paddingInner":0,"paddingOuter":0},"axis":null},
      "y":{"datum":-1.0,"type":"quantitative"},"text":{"field":"t"}}}
  ]}
 ]
},
{"spacing":0,"hconcat":[
{"width":1,"height":1,"data":{"values":[]},"mark":{"type":"point","opacity":0},"encoding":{}},
{"spacing":-3,"hconcat":[
 {"spacing":0,"vconcat":[
  {"title":{"text":"d"},"vconcat":[{"title":{"text":"dm0.5 gds0.3 ids0.1","fontSize":7.5,"fontWeight":"normal","color":"#333","dx":35,"offset":1.5},"spacing":4,"hconcat":[
   {"spacing":1,"vconcat":[
    {"width":148,"height":13,"view":{"stroke":"#222","strokeWidth":1.6,"fill":"white"},"data":{"values":[{"s":"TSS"}]},"mark":{"type":"text","fontSize":8,"color":"#222"},"encoding":{"text":{"field":"s"},"y":{"datum":0.5,"type":"quantitative","scale":{"domain":[0,1]},"axis":{"title":"D","titleOpacity":0,"labels":false,"ticks":false,"domain":false,"minExtent":24,"maxExtent":24}}}},
    {"width":148,"height":65,"data":{"name":"d"},"layer":[
     {"mark":{"type":"line","color":"#2b3190","strokeWidth":0.9},"encoding":{"x":{"field":"x","type":"quantitative","scale":{"domain":[-3300,3300],"nice":false,"zero":false},"axis":{"title":null,"values":[-2000,0,2000],"format":"d"}},"y":{"field":"a","type":"quantitative","scale":{"domain":[-0.805,-0.628],"nice":false,"zero":false},"axis":{"title":"Tajima's D","values":[-0.8,-0.75,-0.7,-0.65],"format":".2f","minExtent":24,"maxExtent":24}}}},
     {"data":{"values":[{"x":0}]},"mark":{"type":"rule","strokeDash":[3,2.5],"color":"#222","strokeWidth":0.9},"encoding":{"x":{"field":"x","type":"quantitative"}}}
    ]}
   ]},
   {"spacing":1,"vconcat":[
    {"width":148,"height":13,"view":{"stroke":"#222","strokeWidth":1.6,"fill":"white"},"data":{"values":[{"s":"TTS"}]},"mark":{"type":"text","fontSize":8,"color":"#222"},"encoding":{"text":{"field":"s"}}},
    {"width":148,"height":65,"data":{"name":"d"},"layer":[
     {"mark":{"type":"line","color":"#2b3190","strokeWidth":0.9},"encoding":{"x":{"field":"x","type":"quantitative","scale":{"domain":[-3300,3300],"nice":false,"zero":false},"axis":{"title":null,"values":[-2000,0,2000],"format":"d"}},"y":{"field":"b","type":"quantitative","scale":{"domain":[-0.805,-0.628],"nice":false,"zero":false},"axis":null}}},
     {"data":{"values":[{"x":0}]},"mark":{"type":"rule","strokeDash":[3,2.5],"color":"#222","strokeWidth":0.9},"encoding":{"x":{"field":"x","type":"quantitative"}}}
    ]}
   ]}
  ]}]},
  {"title":{"text":"f"},"vconcat":[{"title":{"text":"dm0.5 gds0.3 ids0.3","fontSize":7.5,"fontWeight":"normal","color":"#333","dx":35,"offset":1.5},"spacing":4,"hconcat":[
   {"spacing":1,"vconcat":[
    {"width":148,"height":13,"view":{"stroke":"#222","strokeWidth":1.6,"fill":"white"},"data":{"values":[{"s":"TSS"}]},"mark":{"type":"text","fontSize":8,"color":"#222"},"encoding":{"text":{"field":"s"},"y":{"datum":0.5,"type":"quantitative","scale":{"domain":[0,1]},"axis":{"title":"D","titleOpacity":0,"labels":false,"ticks":false,"domain":false,"minExtent":24,"maxExtent":24}}}},
    {"width":148,"height":65,"data":{"name":"f"},"layer":[
     {"mark":{"type":"line","color":"#2b3190","strokeWidth":0.9},"encoding":{"x":{"field":"x","type":"quantitative","scale":{"domain":[-3300,3300],"nice":false,"zero":false},"axis":{"title":null,"values":[-2000,0,2000],"format":"d"}},"y":{"field":"a","type":"quantitative","scale":{"domain":[-0.91,-0.695],"nice":false,"zero":false},"axis":{"title":"Tajima's D","values":[-0.9,-0.85,-0.8,-0.75,-0.7],"format":".2f","minExtent":24,"maxExtent":24}}}},
     {"data":{"values":[{"x":0}]},"mark":{"type":"rule","strokeDash":[3,2.5],"color":"#222","strokeWidth":0.9},"encoding":{"x":{"field":"x","type":"quantitative"}}}
    ]}
   ]},
   {"spacing":1,"vconcat":[
    {"width":148,"height":13,"view":{"stroke":"#222","strokeWidth":1.6,"fill":"white"},"data":{"values":[{"s":"TTS"}]},"mark":{"type":"text","fontSize":8,"color":"#222"},"encoding":{"text":{"field":"s"}}},
    {"width":148,"height":65,"data":{"name":"f"},"layer":[
     {"mark":{"type":"line","color":"#2b3190","strokeWidth":0.9},"encoding":{"x":{"field":"x","type":"quantitative","scale":{"domain":[-3300,3300],"nice":false,"zero":false},"axis":{"title":null,"values":[-2000,0,2000],"format":"d"}},"y":{"field":"b","type":"quantitative","scale":{"domain":[-0.91,-0.695],"nice":false,"zero":false},"axis":null}}},
     {"data":{"values":[{"x":0}]},"mark":{"type":"rule","strokeDash":[3,2.5],"color":"#222","strokeWidth":0.9},"encoding":{"x":{"field":"x","type":"quantitative"}}}
    ]}
   ]}
  ]}]},
  {"title":{"text":"h"},"vconcat":[{"title":{"text":"dm1 gds0.3 ids0.1","fontSize":7.5,"fontWeight":"normal","color":"#333","dx":35,"offset":1.5},"spacing":4,"hconcat":[
   {"spacing":1,"vconcat":[
    {"width":148,"height":13,"view":{"stroke":"#222","strokeWidth":1.6,"fill":"white"},"data":{"values":[{"s":"TSS"}]},"mark":{"type":"text","fontSize":8,"color":"#222"},"encoding":{"text":{"field":"s"},"y":{"datum":0.5,"type":"quantitative","scale":{"domain":[0,1]},"axis":{"title":"D","titleOpacity":0,"labels":false,"ticks":false,"domain":false,"minExtent":24,"maxExtent":24}}}},
    {"width":148,"height":65,"data":{"name":"h"},"layer":[
     {"mark":{"type":"line","color":"#2b3190","strokeWidth":0.9},"encoding":{"x":{"field":"x","type":"quantitative","scale":{"domain":[-3300,3300],"nice":false,"zero":false},"axis":{"title":null,"values":[-2000,0,2000],"format":"d"}},"y":{"field":"a","type":"quantitative","scale":{"domain":[-0.915,-0.83],"nice":false,"zero":false},"axis":{"title":"Tajima's D","values":[-0.9,-0.88,-0.86,-0.84],"format":".2f","minExtent":24,"maxExtent":24}}}},
     {"data":{"values":[{"x":0}]},"mark":{"type":"rule","strokeDash":[3,2.5],"color":"#222","strokeWidth":0.9},"encoding":{"x":{"field":"x","type":"quantitative"}}}
    ]}
   ]},
   {"spacing":1,"vconcat":[
    {"width":148,"height":13,"view":{"stroke":"#222","strokeWidth":1.6,"fill":"white"},"data":{"values":[{"s":"TTS"}]},"mark":{"type":"text","fontSize":8,"color":"#222"},"encoding":{"text":{"field":"s"}}},
    {"width":148,"height":65,"data":{"name":"h"},"layer":[
     {"mark":{"type":"line","color":"#2b3190","strokeWidth":0.9},"encoding":{"x":{"field":"x","type":"quantitative","scale":{"domain":[-3300,3300],"nice":false,"zero":false},"axis":{"title":null,"values":[-2000,0,2000],"format":"d"}},"y":{"field":"b","type":"quantitative","scale":{"domain":[-0.915,-0.83],"nice":false,"zero":false},"axis":null}}},
     {"data":{"values":[{"x":0}]},"mark":{"type":"rule","strokeDash":[3,2.5],"color":"#222","strokeWidth":0.9},"encoding":{"x":{"field":"x","type":"quantitative"}}}
    ]}
   ]}
  ]}]},
  {"title":{"text":"Genomic positions relative to TSS or TTS (bp)","orient":"bottom","anchor":"middle","frame":"bounds","fontSize":10.5,"fontWeight":"bold","color":"#222","offset":3,"dx":19},"vconcat":[
  {"title":{"text":"j"},"vconcat":[{"title":{"text":"dm1 gds0.3 ids0.3","fontSize":7.5,"fontWeight":"normal","color":"#333","dx":35,"offset":1.5},"spacing":4,"hconcat":[
   {"spacing":1,"vconcat":[
    {"width":148,"height":13,"view":{"stroke":"#222","strokeWidth":1.6,"fill":"white"},"data":{"values":[{"s":"TSS"}]},"mark":{"type":"text","fontSize":8,"color":"#222"},"encoding":{"text":{"field":"s"},"y":{"datum":0.5,"type":"quantitative","scale":{"domain":[0,1]},"axis":{"title":"D","titleOpacity":0,"labels":false,"ticks":false,"domain":false,"minExtent":24,"maxExtent":24}}}},
    {"width":148,"height":65,"data":{"name":"j"},"layer":[
     {"mark":{"type":"line","color":"#2b3190","strokeWidth":0.9},"encoding":{"x":{"field":"x","type":"quantitative","scale":{"domain":[-3300,3300],"nice":false,"zero":false},"axis":{"title":null,"values":[-2000,0,2000],"format":"d"}},"y":{"field":"a","type":"quantitative","scale":{"domain":[-0.94,-0.852],"nice":false,"zero":false},"axis":{"title":"Tajima's D","values":[-0.94,-0.92,-0.9,-0.88,-0.86],"format":".2f","minExtent":24,"maxExtent":24}}}},
     {"data":{"values":[{"x":0}]},"mark":{"type":"rule","strokeDash":[3,2.5],"color":"#222","strokeWidth":0.9},"encoding":{"x":{"field":"x","type":"quantitative"}}}
    ]}
   ]},
   {"spacing":1,"vconcat":[
    {"width":148,"height":13,"view":{"stroke":"#222","strokeWidth":1.6,"fill":"white"},"data":{"values":[{"s":"TTS"}]},"mark":{"type":"text","fontSize":8,"color":"#222"},"encoding":{"text":{"field":"s"}}},
    {"width":148,"height":65,"data":{"name":"j"},"layer":[
     {"mark":{"type":"line","color":"#2b3190","strokeWidth":0.9},"encoding":{"x":{"field":"x","type":"quantitative","scale":{"domain":[-3300,3300],"nice":false,"zero":false},"axis":{"title":null,"values":[-2000,0,2000],"format":"d"}},"y":{"field":"b","type":"quantitative","scale":{"domain":[-0.94,-0.852],"nice":false,"zero":false},"axis":null}}},
     {"data":{"values":[{"x":0}]},"mark":{"type":"rule","strokeDash":[3,2.5],"color":"#222","strokeWidth":0.9},"encoding":{"x":{"field":"x","type":"quantitative"}}}
    ]}
   ]}
  ]}]}
  ]}
 ]},
 {"spacing":0,"vconcat":[
  {"title":{"text":"e","dx":8},"vconcat":[{"title":{"text":"dm0.5 gds0.3 ids0.1","fontSize":7.5,"fontWeight":"normal","color":"#333","dx":25,"offset":1.5},"spacing":4,"hconcat":[
   {"spacing":1,"vconcat":[
    {"width":152,"height":13,"view":{"stroke":"#222","strokeWidth":1.6,"fill":"white"},"data":{"values":[{"s":"TSS"}]},"mark":{"type":"text","fontSize":8,"color":"#222"},"encoding":{"text":{"field":"s"},"y":{"datum":0.5,"type":"quantitative","scale":{"domain":[0,1]},"axis":{"title":"P","titleOpacity":0,"labels":false,"ticks":false,"domain":false,"minExtent":13,"maxExtent":13}}}},
    {"width":152,"height":65,"data":{"name":"e"},"layer":[
     {"mark":{"type":"line","color":"#c42e2e","strokeWidth":0.9},"encoding":{"x":{"field":"x","type":"quantitative","scale":{"domain":[-3300,3300],"nice":false,"zero":false},"axis":{"title":null,"values":[-2000,0,2000],"format":"d"}},"y":{"field":"a","type":"quantitative","scale":{"domain":[14.4,33.6],"nice":false,"zero":false},"axis":{"title":"Polymorphisms","values":[15,20,25,30],"format":"d","minExtent":13,"maxExtent":13}}}},
     {"data":{"values":[{"x":0}]},"mark":{"type":"rule","strokeDash":[3,2.5],"color":"#222","strokeWidth":0.9},"encoding":{"x":{"field":"x","type":"quantitative"}}}
    ]}
   ]},
   {"spacing":1,"vconcat":[
    {"width":152,"height":13,"view":{"stroke":"#222","strokeWidth":1.6,"fill":"white"},"data":{"values":[{"s":"TTS"}]},"mark":{"type":"text","fontSize":8,"color":"#222"},"encoding":{"text":{"field":"s"}}},
    {"width":152,"height":65,"data":{"name":"e"},"layer":[
     {"mark":{"type":"line","color":"#c42e2e","strokeWidth":0.9},"encoding":{"x":{"field":"x","type":"quantitative","scale":{"domain":[-3300,3300],"nice":false,"zero":false},"axis":{"title":null,"values":[-2000,0,2000],"format":"d"}},"y":{"field":"b","type":"quantitative","scale":{"domain":[14.4,33.6],"nice":false,"zero":false},"axis":null}}},
     {"data":{"values":[{"x":0}]},"mark":{"type":"rule","strokeDash":[3,2.5],"color":"#222","strokeWidth":0.9},"encoding":{"x":{"field":"x","type":"quantitative"}}}
    ]}
   ]}
  ]}]},
  {"title":{"text":"g","dx":8},"vconcat":[{"title":{"text":"dm0.5 gds0.3 ids0.3","fontSize":7.5,"fontWeight":"normal","color":"#333","dx":25,"offset":1.5},"spacing":4,"hconcat":[
   {"spacing":1,"vconcat":[
    {"width":152,"height":13,"view":{"stroke":"#222","strokeWidth":1.6,"fill":"white"},"data":{"values":[{"s":"TSS"}]},"mark":{"type":"text","fontSize":8,"color":"#222"},"encoding":{"text":{"field":"s"},"y":{"datum":0.5,"type":"quantitative","scale":{"domain":[0,1]},"axis":{"title":"P","titleOpacity":0,"labels":false,"ticks":false,"domain":false,"minExtent":13,"maxExtent":13}}}},
    {"width":152,"height":65,"data":{"name":"g"},"layer":[
     {"mark":{"type":"line","color":"#c42e2e","strokeWidth":0.9},"encoding":{"x":{"field":"x","type":"quantitative","scale":{"domain":[-3300,3300],"nice":false,"zero":false},"axis":{"title":null,"values":[-2000,0,2000],"format":"d"}},"y":{"field":"a","type":"quantitative","scale":{"domain":[12.5,28.5],"nice":false,"zero":false},"axis":{"title":"Polymorphisms","values":[16,20,24,28],"format":"d","minExtent":13,"maxExtent":13}}}},
     {"data":{"values":[{"x":0}]},"mark":{"type":"rule","strokeDash":[3,2.5],"color":"#222","strokeWidth":0.9},"encoding":{"x":{"field":"x","type":"quantitative"}}}
    ]}
   ]},
   {"spacing":1,"vconcat":[
    {"width":152,"height":13,"view":{"stroke":"#222","strokeWidth":1.6,"fill":"white"},"data":{"values":[{"s":"TTS"}]},"mark":{"type":"text","fontSize":8,"color":"#222"},"encoding":{"text":{"field":"s"}}},
    {"width":152,"height":65,"data":{"name":"g"},"layer":[
     {"mark":{"type":"line","color":"#c42e2e","strokeWidth":0.9},"encoding":{"x":{"field":"x","type":"quantitative","scale":{"domain":[-3300,3300],"nice":false,"zero":false},"axis":{"title":null,"values":[-2000,0,2000],"format":"d"}},"y":{"field":"b","type":"quantitative","scale":{"domain":[12.5,28.5],"nice":false,"zero":false},"axis":null}}},
     {"data":{"values":[{"x":0}]},"mark":{"type":"rule","strokeDash":[3,2.5],"color":"#222","strokeWidth":0.9},"encoding":{"x":{"field":"x","type":"quantitative"}}}
    ]}
   ]}
  ]}]},
  {"title":{"text":"i","dx":8},"vconcat":[{"title":{"text":"dm1 gds0.3 ids0.1","fontSize":7.5,"fontWeight":"normal","color":"#333","dx":25,"offset":1.5},"spacing":4,"hconcat":[
   {"spacing":1,"vconcat":[
    {"width":152,"height":13,"view":{"stroke":"#222","strokeWidth":1.6,"fill":"white"},"data":{"values":[{"s":"TSS"}]},"mark":{"type":"text","fontSize":8,"color":"#222"},"encoding":{"text":{"field":"s"},"y":{"datum":0.5,"type":"quantitative","scale":{"domain":[0,1]},"axis":{"title":"P","titleOpacity":0,"labels":false,"ticks":false,"domain":false,"minExtent":13,"maxExtent":13}}}},
    {"width":152,"height":65,"data":{"name":"i"},"layer":[
     {"mark":{"type":"line","color":"#c42e2e","strokeWidth":0.9},"encoding":{"x":{"field":"x","type":"quantitative","scale":{"domain":[-3300,3300],"nice":false,"zero":false},"axis":{"title":null,"values":[-2000,0,2000],"format":"d"}},"y":{"field":"a","type":"quantitative","scale":{"domain":[26.05,30.6],"nice":false,"zero":false},"axis":{"title":"Polymorphisms","values":[27,28,29,30],"format":"d","minExtent":13,"maxExtent":13}}}},
     {"data":{"values":[{"x":0}]},"mark":{"type":"rule","strokeDash":[3,2.5],"color":"#222","strokeWidth":0.9},"encoding":{"x":{"field":"x","type":"quantitative"}}}
    ]}
   ]},
   {"spacing":1,"vconcat":[
    {"width":152,"height":13,"view":{"stroke":"#222","strokeWidth":1.6,"fill":"white"},"data":{"values":[{"s":"TTS"}]},"mark":{"type":"text","fontSize":8,"color":"#222"},"encoding":{"text":{"field":"s"}}},
    {"width":152,"height":65,"data":{"name":"i"},"layer":[
     {"mark":{"type":"line","color":"#c42e2e","strokeWidth":0.9},"encoding":{"x":{"field":"x","type":"quantitative","scale":{"domain":[-3300,3300],"nice":false,"zero":false},"axis":{"title":null,"values":[-2000,0,2000],"format":"d"}},"y":{"field":"b","type":"quantitative","scale":{"domain":[26.05,30.6],"nice":false,"zero":false},"axis":null}}},
     {"data":{"values":[{"x":0}]},"mark":{"type":"rule","strokeDash":[3,2.5],"color":"#222","strokeWidth":0.9},"encoding":{"x":{"field":"x","type":"quantitative"}}}
    ]}
   ]}
  ]}]},
  {"title":{"text":"Genomic positions relative to TSS or TTS (bp)","orient":"bottom","anchor":"middle","frame":"bounds","fontSize":10.5,"fontWeight":"bold","color":"#222","offset":3,"dx":12},"vconcat":[
  {"title":{"text":"k","dx":8},"vconcat":[{"title":{"text":"dm1 gds0.3 ids0.3","fontSize":7.5,"fontWeight":"normal","color":"#333","dx":25,"offset":1.5},"spacing":4,"hconcat":[
   {"spacing":1,"vconcat":[
    {"width":152,"height":13,"view":{"stroke":"#222","strokeWidth":1.6,"fill":"white"},"data":{"values":[{"s":"TSS"}]},"mark":{"type":"text","fontSize":8,"color":"#222"},"encoding":{"text":{"field":"s"},"y":{"datum":0.5,"type":"quantitative","scale":{"domain":[0,1]},"axis":{"title":"P","titleOpacity":0,"labels":false,"ticks":false,"domain":false,"minExtent":13,"maxExtent":13}}}},
    {"width":152,"height":65,"data":{"name":"k"},"layer":[
     {"mark":{"type":"line","color":"#c42e2e","strokeWidth":0.9},"encoding":{"x":{"field":"x","type":"quantitative","scale":{"domain":[-3300,3300],"nice":false,"zero":false},"axis":{"title":null,"values":[-2000,0,2000],"format":"d"}},"y":{"field":"a","type":"quantitative","scale":{"domain":[24.4,28.5],"nice":false,"zero":false},"axis":{"title":"Polymorphisms","values":[25,26,27,28],"format":"d","minExtent":13,"maxExtent":13}}}},
     {"data":{"values":[{"x":0}]},"mark":{"type":"rule","strokeDash":[3,2.5],"color":"#222","strokeWidth":0.9},"encoding":{"x":{"field":"x","type":"quantitative"}}}
    ]}
   ]},
   {"spacing":1,"vconcat":[
    {"width":152,"height":13,"view":{"stroke":"#222","strokeWidth":1.6,"fill":"white"},"data":{"values":[{"s":"TTS"}]},"mark":{"type":"text","fontSize":8,"color":"#222"},"encoding":{"text":{"field":"s"}}},
    {"width":152,"height":65,"data":{"name":"k"},"layer":[
     {"mark":{"type":"line","color":"#c42e2e","strokeWidth":0.9},"encoding":{"x":{"field":"x","type":"quantitative","scale":{"domain":[-3300,3300],"nice":false,"zero":false},"axis":{"title":null,"values":[-2000,0,2000],"format":"d"}},"y":{"field":"b","type":"quantitative","scale":{"domain":[24.4,28.5],"nice":false,"zero":false},"axis":null}}},
     {"data":{"values":[{"x":0}]},"mark":{"type":"rule","strokeDash":[3,2.5],"color":"#222","strokeWidth":0.9},"encoding":{"x":{"field":"x","type":"quantitative"}}}
    ]}
   ]}
  ]}]}
  ]}
 ]}
]}
]}
]
}
